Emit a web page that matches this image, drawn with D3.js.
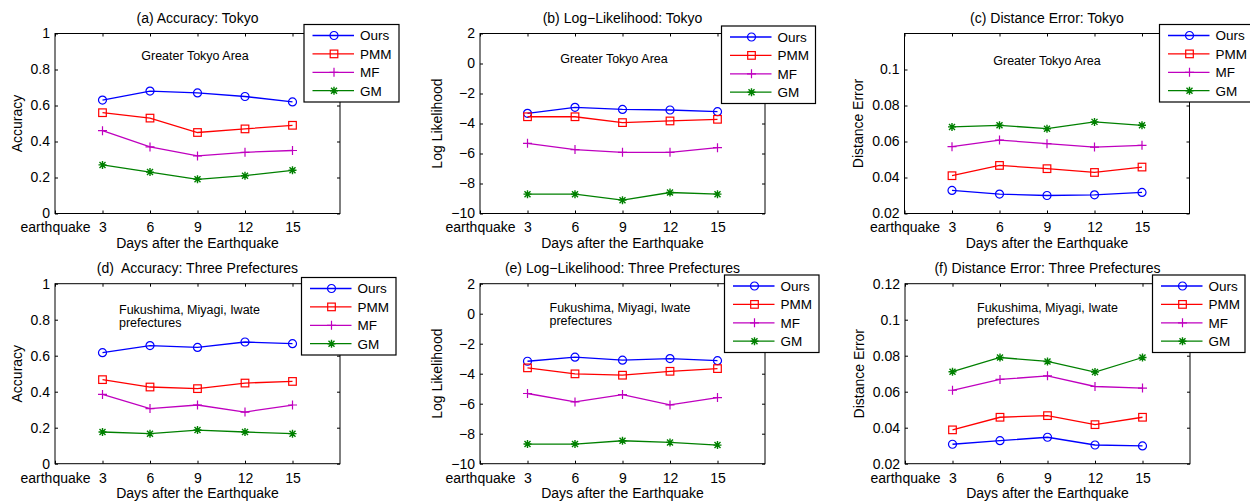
<html>
<head>
<meta charset="utf-8">
<script src="https://d3js.org/d3.v7.min.js"></script>
<style>
  body { margin: 0; background: #fff; }
  text { font-family: "Liberation Sans", Arial, Helvetica, sans-serif; fill: #000; }
  .axis .domain { display: none; }
  .axis line { stroke: #000; }
</style>
</head>
<body>
<svg id="fig" width="1250" height="501" style="background:#fff"></svg>
<script>
// ---- data ----
const seriesNames = ["Ours", "PMM", "MF", "GM"];
const days = [3, 6, 9, 12, 15];
const xTicks = [0, 3, 6, 9, 12, 15];
const xTickLabels = ["earthquake", "3", "6", "9", "12", "15"];

// series order: Ours, PMM, MF, GM
const accTokyo = [
  [0.63, 0.68, 0.67, 0.65, 0.62],
  [0.56, 0.53, 0.45, 0.47, 0.49],
  [0.46, 0.37, 0.32, 0.34, 0.35],
  [0.27, 0.23, 0.19, 0.21, 0.24]
];
const llTokyo = [
  [-3.32, -2.92, -3.06, -3.10, -3.21],
  [-3.55, -3.55, -3.94, -3.83, -3.72],
  [-5.32, -5.74, -5.92, -5.92, -5.61],
  [-8.71, -8.71, -9.11, -8.60, -8.71]
];
const deTokyo = [
  [0.0328, 0.0308, 0.0300, 0.0304, 0.0317],
  [0.0410, 0.0467, 0.0449, 0.0428, 0.0458],
  [0.0571, 0.0608, 0.0588, 0.0569, 0.0579],
  [0.0681, 0.0690, 0.0671, 0.0709, 0.0690]
];
const accThree = [
  [0.617, 0.656, 0.646, 0.676, 0.667],
  [0.467, 0.426, 0.417, 0.448, 0.457],
  [0.385, 0.306, 0.326, 0.287, 0.326],
  [0.176, 0.167, 0.187, 0.176, 0.167]
];
const llThree = [
  [-3.17, -2.90, -3.10, -2.99, -3.13],
  [-3.61, -4.01, -4.10, -3.84, -3.66],
  [-5.32, -5.88, -5.39, -6.08, -5.59],
  [-8.69, -8.69, -8.47, -8.58, -8.76]
];
const deThree = [
  [0.0308, 0.0328, 0.0347, 0.0304, 0.0299],
  [0.0388, 0.0458, 0.0467, 0.0417, 0.0458],
  [0.0608, 0.0668, 0.0688, 0.0629, 0.0620],
  [0.0711, 0.0790, 0.0768, 0.0709, 0.0790]
];

const accTicks = [0, 0.2, 0.4, 0.6, 0.8, 1];
const llTicks = [-10, -8, -6, -4, -2, 0, 2];
const deTicksTokyo = [0.02, 0.04, 0.06, 0.08, 0.1];
const deTicksThree = [0.02, 0.04, 0.06, 0.08, 0.1, 0.12];

const colors = ["#0000ff", "#ff0000", "#bf00bf", "#008000"];
const markers = ["circle", "square", "plus", "star"];

// ---- layout of each sub-plot ----
const boxW = 285, boxH = 180;
const panels = [
  { title: "(a) Accuracy: Tokyo", ylabel: "Accuracy", data: accTokyo, yDomain: [0, 1], yTicks: accTicks,
    left: 55, top: 33.5, ylabOff: 38, legend: [304, 24.5, 95],
    note: ["Greater Tokyo Area"], noteX: 195, noteY: 60, noteAnchor: "middle" },
  { title: "(b) Log\u2212Likelihood: Tokyo", ylabel: "Log Likelihood", data: llTokyo, yDomain: [-10, 2], yTicks: llTicks,
    left: 480, top: 33.5, ylabOff: 43, legend: [721.5, 26, 94],
    note: ["Greater Tokyo Area"], noteX: 614, noteY: 62.5, noteAnchor: "middle" },
  { title: "(c) Distance Error: Tokyo", ylabel: "Distance Error", data: deTokyo, yDomain: [0.02, 0.12], yTicks: deTicksTokyo,
    left: 904.5, top: 33.5, ylabOff: 46, legend: [1159.5, 24.5, 95],
    note: ["Greater Tokyo Area"], noteX: 1047, noteY: 64.5, noteAnchor: "middle" },
  { title: "(d)  Accuracy: Three Prefectures", ylabel: "Accuracy", data: accThree, yDomain: [0, 1], yTicks: accTicks,
    left: 55, top: 283.7, ylabOff: 38, legend: [301.5, 277.5, 94.5],
    note: ["Fukushima, Miyagi, Iwate", "prefectures"], noteX: 119, noteY: 313.5, noteAnchor: "start" },
  { title: "(e) Log\u2212Likelihood: Three Prefectures", ylabel: "Log Likelihood", data: llThree, yDomain: [-10, 2], yTicks: llTicks,
    left: 480, top: 283.7, ylabOff: 43, legend: [724.5, 275, 94.5],
    note: ["Fukushima, Miyagi, Iwate", "prefectures"], noteX: 549.5, noteY: 311.5, noteAnchor: "start" },
  { title: "(f) Distance Error: Three Prefectures", ylabel: "Distance Error", data: deThree, yDomain: [0.02, 0.12], yTicks: deTicksThree,
    left: 905, top: 283.7, ylabOff: 46, legend: [1152.5, 275, 92.5],
    note: ["Fukushima, Miyagi, Iwate", "prefectures"], noteX: 977, noteY: 311.5, noteAnchor: "start" }
];

const svg = d3.select("#fig");
const fmt = d3.format("~g");

// draw one marker centred on 0,0
function drawMarker(g, type, color) {
  if (type === "circle") {
    g.append("circle").attr("r", 4).attr("fill", "none").attr("stroke", color).attr("stroke-width", 1.2);
  } else if (type === "square") {
    g.append("rect").attr("x", -3.8).attr("y", -3.8).attr("width", 7.6).attr("height", 7.6)
      .attr("fill", "none").attr("stroke", color).attr("stroke-width", 1.2);
  } else if (type === "plus") {
    g.append("path").attr("d", "M-4.5,0H4.5M0,-4.5V4.5").attr("stroke", color).attr("stroke-width", 1.2);
  } else {
    g.append("path").attr("d", "M-4,0H4M0,-4V4M-3,-3L3,3M-3,3L3,-3").attr("stroke", color).attr("stroke-width", 1.4);
  }
}

panels.forEach(p => {
  const g = svg.append("g").attr("transform", `translate(${p.left},${p.top})`);
  const xScale = d3.scaleLinear().domain([0, 18]).range([0, boxW]);
  const yScale = d3.scaleLinear().domain(p.yDomain).range([boxH, 0]);

  // axes with inward ticks (all four sides)
  g.append("g").attr("class", "axis").attr("transform", `translate(0,${boxH})`)
    .call(d3.axisBottom(xScale).tickValues(xTicks).tickSize(-3).tickPadding(9)
      .tickFormat((d, i) => xTickLabels[i]))
    .selectAll("text").style("font-size", "14px");
  g.append("g").attr("class", "axis")
    .call(d3.axisTop(xScale).tickValues(xTicks).tickSize(-3).tickFormat(""));
  g.append("g").attr("class", "axis")
    .call(d3.axisLeft(yScale).tickValues(p.yTicks).tickSize(-3).tickPadding(5).tickFormat(fmt))
    .selectAll("text").style("font-size", "14px");
  g.append("g").attr("class", "axis").attr("transform", `translate(${boxW},0)`)
    .call(d3.axisRight(yScale).tickValues(p.yTicks).tickSize(-3).tickFormat(""));

  g.append("rect").attr("width", boxW).attr("height", boxH)
    .attr("fill", "none").attr("stroke", "#000").attr("stroke-width", 1);

  // title + labels
  g.append("text").attr("x", boxW / 2).attr("y", -11).attr("text-anchor", "middle")
    .style("font-size", "14px").style("white-space", "pre").text(p.title);
  g.append("text").attr("x", boxW / 2).attr("y", boxH + 34).attr("text-anchor", "middle")
    .style("font-size", "14px").text("Days after the Earthquake");
  g.append("text").attr("transform", `translate(${-p.ylabOff},${boxH / 2}) rotate(-90)`)
    .attr("dy", "0.35em").attr("text-anchor", "middle").style("font-size", "14px").text(p.ylabel);

  // lines + markers
  const line = d3.line().x((d, i) => xScale(days[i])).y(d => yScale(d));
  p.data.forEach((vals, s) => {
    g.append("path").attr("d", line(vals)).attr("fill", "none")
      .attr("stroke", colors[s]).attr("stroke-width", 1.3);
    vals.forEach((v, i) => {
      const m = g.append("g").attr("transform", `translate(${xScale(days[i])},${yScale(v)})`);
      drawMarker(m, markers[s], colors[s]);
    });
  });

  // annotation
  p.note.forEach((t, i) => {
    svg.append("text").attr("x", p.noteX).attr("y", p.noteY + i * 13)
      .attr("text-anchor", p.noteAnchor).style("font-size", "12.5px").text(t);
  });

  // legend
  const [lx, ly, lw] = p.legend;
  const lg = svg.append("g").attr("transform", `translate(${lx},${ly})`);
  lg.append("rect").attr("width", lw).attr("height", 77.5)
    .attr("fill", "#fff").attr("stroke", "#000").attr("stroke-width", 1.2);
  seriesNames.forEach((name, s) => {
    const ry = 11 + s * 18.4;
    lg.append("line").attr("x1", 8.5).attr("x2", 50).attr("y1", ry).attr("y2", ry)
      .attr("stroke", colors[s]).attr("stroke-width", 1.3);
    const m = lg.append("g").attr("transform", `translate(30,${ry})`);
    drawMarker(m, markers[s], colors[s]);
    lg.append("text").attr("x", 56).attr("y", ry).attr("dy", "0.36em")
      .style("font-size", "13.5px").text(name);
  });
});
</script>
</body>
</html>
